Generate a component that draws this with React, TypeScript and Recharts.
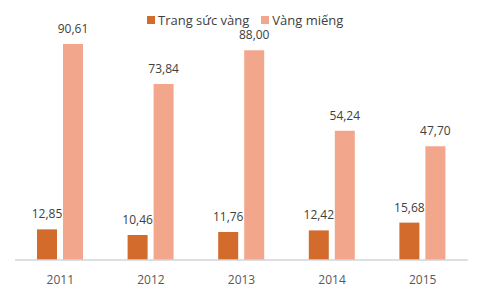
import { BarChart, Bar, XAxis, YAxis, LabelList } from 'recharts'

const years = ['2011', '2012', '2013', '2014', '2015']
const trangSucVang = [12.85, 10.46, 11.76, 12.42, 15.68]
const vangMieng = [90.61, 73.84, 88.0, 54.24, 47.7]

const series = [
  { key: 'trangSuc', name: 'Trang sức vàng', color: '#D26B2C', values: trangSucVang },
  { key: 'vangMieng', name: 'Vàng miếng', color: '#F2A68B', values: vangMieng },
]

const data = years.map((year, i) => ({
  year,
  trangSuc: trangSucVang[i],
  vangMieng: vangMieng[i],
}))

const fmt = (v: any) => Number(v).toFixed(2).replace('.', ',')

const font = '"Open Sans", sans-serif'

export default function App() {
  return (
    <div style={{ position: 'absolute', left: 0, top: 0, width: 490, height: 296, background: '#fff', fontFamily: font }}>
      {/* Legend */}
      <div style={{ position: 'absolute', top: 11, left: 147, display: 'flex', alignItems: 'center', gap: 12 }}>
        {series.map((s) => (
          <div key={s.key} style={{ display: 'flex', alignItems: 'center', gap: 3 }}>
            <div style={{ width: 8, height: 8, background: s.color }} />
            <span style={{ fontSize: 13, color: '#404040', lineHeight: '18px' }}>{s.name}</span>
          </div>
        ))}
      </div>
      <BarChart
        width={490}
        height={296}
        data={data}
        margin={{ top: 21.6, right: 22, bottom: 6, left: 15 }}
        barGap={6}
        barSize={20}
      >
        <YAxis hide domain={[0, 100]} />
        <XAxis
          dataKey="year"
          height={30}
          tickLine={false}
          tickSize={0}
          tickMargin={15}
          axisLine={{ stroke: '#D0D4DA', strokeWidth: 1.5 }}
          tick={{ fill: '#595959', fontSize: 12, fontFamily: font }}
        />
        {series.map((s) => (
          <Bar key={s.key} dataKey={s.key} name={s.name} fill={s.color} isAnimationActive={false}>
            <LabelList
              dataKey={s.key}
              position="top"
              offset={11}
              formatter={fmt}
              style={{ fill: '#404040', fontSize: 12, fontFamily: font }}
            />
          </Bar>
        ))}
      </BarChart>
    </div>
  )
}
